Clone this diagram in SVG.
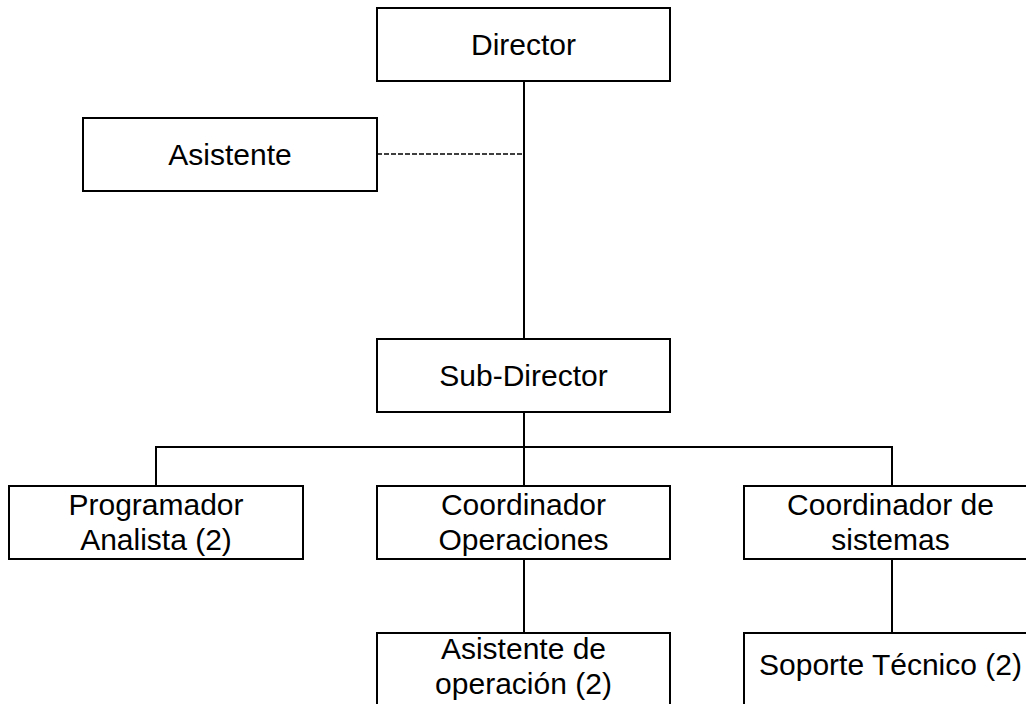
<svg xmlns="http://www.w3.org/2000/svg" width="1026" height="704" viewBox="0 0 1026 704">
  <style>
    .box { fill: #ffffff; stroke: #000000; stroke-width: 2; }
    .lbl { font-family: "Liberation Sans", Arial, sans-serif; font-size: 30px; fill: #000000; text-anchor: middle; }
    .link { fill: none; stroke: #000000; stroke-width: 2; }
    .dash { fill: none; stroke: #000000; stroke-width: 1.5; stroke-dasharray: 5 2; }
  </style>
  <rect width="1026" height="704" fill="#ffffff"/>

  <g id="connectors">
    <line class="link" x1="524" y1="81" x2="524" y2="339"/>
    <line class="dash" x1="377" y1="154" x2="524" y2="154"/>
    <line class="link" x1="524" y1="412" x2="524" y2="447"/>
    <line class="link" x1="155" y1="447" x2="893" y2="447"/>
    <line class="link" x1="156" y1="446" x2="156" y2="486"/>
    <line class="link" x1="524" y1="447" x2="524" y2="486"/>
    <line class="link" x1="892" y1="446" x2="892" y2="486"/>
    <line class="link" x1="524" y1="559" x2="524" y2="633"/>
    <line class="link" x1="892" y1="559" x2="892" y2="633"/>
  </g>

  <g id="director">
    <rect class="box" x="377" y="8" width="293" height="73"/>
    <text class="lbl" x="523.5" y="55">Director</text>
  </g>

  <g id="asistente">
    <rect class="box" x="83" y="118" width="294" height="73"/>
    <text class="lbl" x="230" y="165">Asistente</text>
  </g>

  <g id="sub-director">
    <rect class="box" x="377" y="339" width="293" height="73"/>
    <text class="lbl" x="523.5" y="386">Sub-Director</text>
  </g>

  <g id="programador-analista">
    <rect class="box" x="9" y="486" width="294" height="73"/>
    <text class="lbl" x="156" y="515">Programador</text>
    <text class="lbl" x="156" y="550">Analista (2)</text>
  </g>

  <g id="coordinador-operaciones">
    <rect class="box" x="377" y="486" width="293" height="73"/>
    <text class="lbl" x="523.5" y="515">Coordinador</text>
    <text class="lbl" x="523.5" y="550">Operaciones</text>
  </g>

  <g id="coordinador-sistemas">
    <rect class="box" x="744" y="486" width="293" height="73"/>
    <text class="lbl" x="890.5" y="515">Coordinador de</text>
    <text class="lbl" x="890.5" y="550">sistemas</text>
  </g>

  <g id="asistente-operacion">
    <rect class="box" x="377" y="633" width="293" height="73"/>
    <text class="lbl" x="523.5" y="659">Asistente de</text>
    <text class="lbl" x="523.5" y="694">operación (2)</text>
  </g>

  <g id="soporte-tecnico">
    <rect class="box" x="744" y="633" width="293" height="73"/>
    <text class="lbl" x="890.5" y="675">Soporte Técnico (2)</text>
  </g>
</svg>
